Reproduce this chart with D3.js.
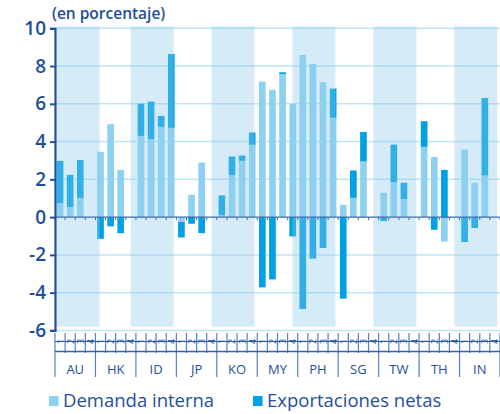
<!DOCTYPE html>
<html>
<head>
<meta charset="utf-8">
<script src="https://cdn.jsdelivr.net/npm/d3@7"></script>
<style>
    body { margin: 0; background: #fff; }
    text { font-family: "Open Sans", sans-serif; }
</style>
</head>
<body>
<div id="chart-area"></div>
<script>
var width = 500;
var height = 414;

var countries = ["AU", "HK", "ID", "JP", "KO", "MY", "PH", "SG", "TW", "TH", "IN"];
var quarters = ["1", "2", "3", "4"];
var shaded = ["AU", "ID", "KO", "PH", "TW", "IN"];
var yTicks = [-6, -4, -2, 0, 2, 4, 6, 8, 10];

// demanda interna, 4 trimestres por pais
var demanda = [
    0.74, 0.53, 1.02, 0,
    3.46, 4.92, 2.50, 0,
    4.30, 4.13, 4.78, 4.73,
    -0.26, 1.18, 2.89, 0,
    0.10, 2.22, 2.98, 3.83,
    7.18, 6.74, 7.58, 6.00,
    8.59, 8.11, 7.14, 5.26,
    0.65, 1.02, 2.95, 0,
    1.29, 1.85, 0.95, 0,
    3.72, 3.19, -1.29, 0,
    3.58, 1.82, 2.20, 0
];

// exportaciones netas
var exportaciones = [
    2.24, 1.71, 2.01, 0,
    -1.15, -0.49, -0.85, 0,
    1.71, 1.99, 0.58, 3.91,
    -0.82, -0.35, -0.85, 0,
    1.05, 0.99, 0.28, 0.65,
    -3.72, -3.30, 0.09, -1.02,
    -4.87, -2.20, -1.64, 1.55,
    -4.32, 1.45, 1.56, 0,
    -0.21, 1.99, 0.87, 0,
    1.36, -0.67, 2.50, 0,
    -1.32, -0.58, 4.11, 0
];

var textColor = "#1f4e9c";
var lightBlue = "#8dd1f2";
var darkBlue = "#00a0e6";

var rows = demanda.map(function(d, i) {
    return {
        index: i,
        country: countries[Math.floor(i / 4)],
        quarter: quarters[i % 4],
        demanda: d,
        exportaciones: exportaciones[i]
    };
});

var x0 = 55, x1 = 500;
var yTop = 28.3, yBottom = 330.4;

var x = d3.scaleBand()
    .domain(d3.range(rows.length))
    .range([x0, x1]);

var xGroup = d3.scaleBand()
    .domain(countries)
    .range([x0, x1]);

var y = d3.scaleLinear()
    .domain([-6, 10])
    .range([yBottom, yTop]);

var svg = d3.select("#chart-area").append("svg")
    .attr("width", width)
    .attr("height", height);

svg.append("text")
    .attr("x", 52)
    .attr("y", 19)
    .attr("fill", textColor)
    .attr("font-size", "15.5px")
    .attr("font-weight", 600)
    .text("(en porcentaje)");

// lineas de rejilla
svg.selectAll(".grid")
    .data(yTicks.filter(function(d) { return d !== 0; }))
    .enter()
    .append("line")
    .attr("class", "grid")
    .attr("x1", x0)
    .attr("x2", x1)
    .attr("y1", function(d) { return y(d); })
    .attr("y2", function(d) { return y(d); })
    .attr("stroke", "#bfe4f6")
    .attr("stroke-width", 1.5);

var stack = d3.stack()
    .keys(["demanda", "exportaciones"])
    .offset(d3.stackOffsetDiverging);

var series = stack(rows);
var colors = { demanda: lightBlue, exportaciones: darkBlue };

svg.selectAll(".serie")
    .data(series)
    .enter()
    .append("g")
    .attr("class", "serie")
    .attr("fill", function(d) { return colors[d.key]; })
    .selectAll("rect")
    .data(function(d) { return d; })
    .enter()
    .append("rect")
    .attr("x", function(d, i) { return x(i) + x.bandwidth() * 0.17; })
    .attr("width", x.bandwidth() * 0.66)
    .attr("y", function(d) { return y(Math.max(d[0], d[1])); })
    .attr("height", function(d) { return Math.abs(y(d[0]) - y(d[1])); });

// bandas sombreadas encima de las barras
svg.selectAll(".band")
    .data(shaded)
    .enter()
    .append("rect")
    .attr("class", "band")
    .attr("x", function(d) {
        return Math.max(x0 + 2, xGroup(d) + xGroup.bandwidth() / 2 - 25.5);
    })
    .attr("width", function(d) {
        var left = xGroup(d) + xGroup.bandwidth() / 2 - 25.5;
        return 43 - Math.max(0, x0 + 2 - left) + (left < x0 ? 7 : 0);
    })
    .attr("y", y(10) - 2)
    .attr("height", y(-5.8) - y(10) + 2)
    .attr("fill", "#8ccbeb")
    .attr("opacity", 0.365);

// eje cero
svg.append("line")
    .attr("x1", x0)
    .attr("x2", x1)
    .attr("y1", y(0))
    .attr("y2", y(0))
    .attr("stroke", "#3e6bb0")
    .attr("stroke-width", 1.4);

svg.selectAll(".zero-tick")
    .data(d3.range(rows.length + 1))
    .enter()
    .append("line")
    .attr("class", "zero-tick")
    .attr("x1", function(d) { return x0 + d * x.step(); })
    .attr("x2", function(d) { return x0 + d * x.step(); })
    .attr("y1", y(0))
    .attr("y2", y(0) + 3)
    .attr("stroke", "#3e6bb0")
    .attr("stroke-width", 1);

// eje y
var yAxis = d3.axisLeft(y)
    .tickValues(yTicks)
    .tickSize(5)
    .tickPadding(4)
    .tickFormat(function(d) { return String(d); });

var yAxisG = svg.append("g")
    .attr("transform", "translate(" + x0 + ",0)")
    .call(yAxis);

yAxisG.select(".domain")
    .attr("stroke", textColor)
    .attr("stroke-width", 2.2);
yAxisG.selectAll(".tick line")
    .attr("stroke", textColor)
    .attr("stroke-width", 2);
yAxisG.selectAll(".tick text")
    .attr("fill", textColor)
    .attr("font-size", "19px")
    .attr("font-weight", 600)
    .attr("font-family", "Open Sans, sans-serif");

// eje x con dos niveles
var axisColor = "#2f62ac";

svg.append("line")
    .attr("x1", x0).attr("x2", x1)
    .attr("y1", 341.5).attr("y2", 341.5)
    .attr("stroke", axisColor)
    .attr("stroke-width", 1);

svg.append("line")
    .attr("x1", x0).attr("x2", x1)
    .attr("y1", 351.5).attr("y2", 351.5)
    .attr("stroke", axisColor)
    .attr("stroke-width", 1.3);

svg.selectAll(".q-tick")
    .data(d3.range(rows.length + 1))
    .enter()
    .append("line")
    .attr("class", "q-tick")
    .attr("x1", function(d) { return x0 + d * x.step(); })
    .attr("x2", function(d) { return x0 + d * x.step(); })
    .attr("y1", 333)
    .attr("y2", function(d) { return d % 4 === 0 ? 377 : 353; })
    .attr("stroke", axisColor)
    .attr("stroke-opacity", 0.8)
    .attr("stroke-width", 1.2);

svg.selectAll(".q-label")
    .data(rows)
    .enter()
    .append("text")
    .attr("class", "q-label")
    .attr("transform", function(d) {
        return "translate(" + (x(d.index) + x.bandwidth() / 2 + 3.5) + ",341.5) rotate(-90)";
    })
    .attr("text-anchor", "middle")
    .attr("fill", textColor)
    .attr("font-size", "9px")
    .text(function(d) { return d.quarter; });

svg.selectAll(".c-label")
    .data(countries)
    .enter()
    .append("text")
    .attr("class", "c-label")
    .attr("x", function(d) { return xGroup(d) + xGroup.bandwidth() / 2; })
    .attr("y", 374)
    .attr("text-anchor", "middle")
    .attr("fill", textColor)
    .attr("font-size", "13px")
    .text(function(d) { return d; });

// leyenda
var legend = [
    { name: "Demanda interna", color: lightBlue, x: 49 },
    { name: "Exportaciones netas", color: darkBlue, x: 253 }
];

var legendG = svg.selectAll(".legend")
    .data(legend)
    .enter()
    .append("g")
    .attr("class", "legend")
    .attr("transform", function(d) { return "translate(" + d.x + ",396)"; });

legendG.append("rect")
    .attr("width", 9.5)
    .attr("height", 10)
    .attr("fill", function(d) { return d.color; });

legendG.append("text")
    .attr("x", 14)
    .attr("y", 11)
    .attr("fill", textColor)
    .attr("font-size", "18.5px")
    .text(function(d) { return d.name; });
</script>
</body>
</html>
